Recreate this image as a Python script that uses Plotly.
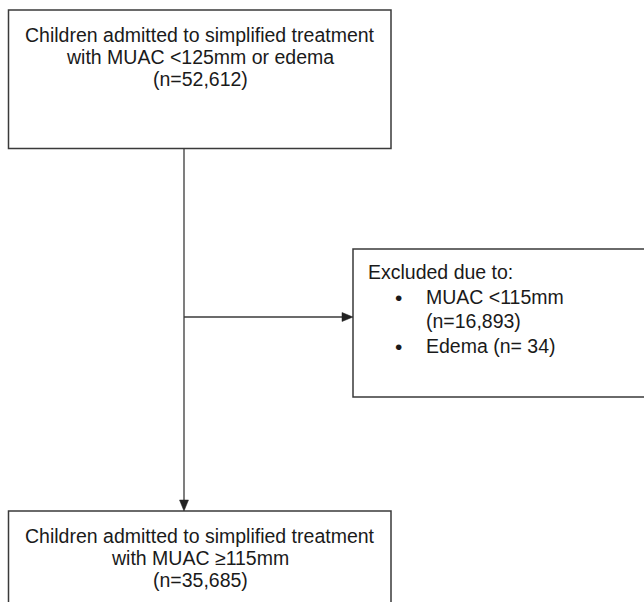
import plotly.graph_objects as go

# Flowchart content (data)
top_label = ["Children admitted to simplified treatment", "with MUAC <125mm or edema"]
top_n = 52612
excl_title = "Excluded due to:"
excl_reasons = ["MUAC <115mm", "Edema"]
excl_n = [16893, 34]
bottom_label = ["Children admitted to simplified treatment", "with MUAC \u2265115mm"]
bottom_n = 35685

W, H = 644, 602
FONT = "Liberation Sans, Arial, sans-serif"
LC = "#3a3a3a"
TC = "#1a1a1a"
FS = 19.5

fig = go.Figure()

# boxes: (x0, y0, x1, y1)
boxes = [(8.5, 10, 391, 148.5), (353, 249, 660, 397), (8.5, 511, 391, 620)]
for x0, y0, x1, y1 in boxes:
    fig.add_shape(type="rect", x0=x0, y0=y0, x1=x1, y1=y1,
                  line=dict(color=LC, width=1.5), fillcolor="rgba(0,0,0,0)")

def txt(x, y, s, anchor="center", size=FS):
    fig.add_annotation(x=x, y=y, text=s, showarrow=False, xanchor=anchor,
                       yanchor="middle", font=dict(family=FONT, size=size, color=TC))

# top box text
tl = top_label + [f"(n={top_n:,})"]
for i, s in enumerate(tl):
    txt(200, 35 + i * 22, s)

# exclusion box text
txt(366, 272, excl_title, anchor="left")
txt(398, 297, "\u2022", size=21)
txt(424, 297, excl_reasons[0], anchor="left")
txt(424, 321, f"(n={excl_n[0]:,})", anchor="left")
txt(398, 346, "\u2022", size=21)
txt(424, 346, f"{excl_reasons[1]} (n= {excl_n[1]})", anchor="left")

# bottom box text
bl = bottom_label + [f"(n={bottom_n:,})"]
for i, s in enumerate(bl):
    txt(200, 536 + i * 22, s)

# connectors
fig.add_shape(type="line", x0=184, y0=148.5, x1=184, y1=501, line=dict(color=LC, width=1.3))
fig.add_shape(type="line", x0=184, y0=317, x1=343, y1=317, line=dict(color=LC, width=1.3))
# arrowheads
fig.add_shape(type="path", path="M 179.5 500 L 188.5 500 L 184 511 Z",
              fillcolor="#222", line=dict(color="#222", width=0.5))
fig.add_shape(type="path", path="M 342 312.5 L 342 321.5 L 353 317 Z",
              fillcolor="#222", line=dict(color="#222", width=0.5))

fig.update_layout(
    width=W, height=H, margin=dict(l=0, r=0, t=0, b=0),
    paper_bgcolor="white", plot_bgcolor="white", showlegend=False,
    xaxis=dict(range=[0, W], visible=False, fixedrange=True),
    yaxis=dict(range=[H, 0], visible=False, fixedrange=True),
)
fig.write_html("out.html", config={"displayModeBar": False},
               post_script="document.body.style.margin='0px';document.body.style.overflow='hidden';")
